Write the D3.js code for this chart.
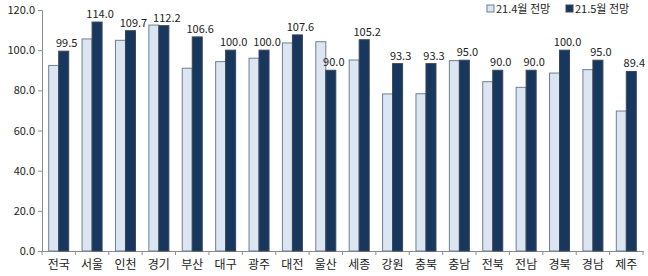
<!DOCTYPE html>
<html>
<head>
<meta charset="utf-8">
<script src="https://cdn.jsdelivr.net/npm/d3@7"></script>
<style>
  body { margin: 0; background: #fff; }
  text { font-family: "Noto Sans CJK KR", "Noto Sans", sans-serif; fill: #222; }
</style>
</head>
<body>
<svg id="chart" width="648" height="276"></svg>
<script>
const regions = ['전국','서울','인천','경기','부산','대구','광주','대전','울산','세종','강원','충북','충남','전북','전남','경북','경남','제주'];
const april = [92.4, 105.6, 104.9, 112.5, 91.0, 94.3, 96.0, 103.6, 104.2, 95.1, 78.2, 78.3, 94.8, 84.3, 81.5, 88.6, 90.3, 69.7];
const may   = [99.5, 114.0, 109.7, 112.2, 106.6, 100.0, 100.0, 107.6, 90.0, 105.2, 93.3, 93.3, 95.0, 90.0, 90.0, 100.0, 95.0, 89.4];
const yTicks = [0, 20, 40, 60, 80, 100, 120];
const seriesNames = ['21.4월 전망', '21.5월 전망'];

const W = 648, H = 276;
const m = { left: 42, right: 5, top: 10, bottom: 25 };

const svg = d3.select('#chart');

const x = d3.scaleBand()
  .domain(regions)
  .range([m.left, W - m.right]);

const y = d3.scaleLinear()
  .domain([0, 120])
  .range([H - m.bottom, m.top]);

const barW = 10;

// y axis
const yAxis = svg.append('g')
  .attr('transform', `translate(${m.left},0)`)
  .call(d3.axisLeft(y).tickValues(yTicks).tickFormat(d3.format('.1f')).tickSize(4).tickPadding(3));
yAxis.select('.domain').attr('stroke', '#8c8c8c');
yAxis.selectAll('.tick line').attr('stroke', '#8c8c8c');
yAxis.selectAll('text').attr('font-size', 11).attr('fill', '#222');

// x axis
const xAxis = svg.append('g')
  .attr('transform', `translate(0,${y(0)})`)
  .call(d3.axisBottom(x).tickSize(0).tickPadding(9));
xAxis.select('.domain').attr('stroke', '#8c8c8c');
xAxis.selectAll('text').attr('font-size', 12).attr('fill', '#222');

// tick marks at band boundaries
svg.append('g').selectAll('line')
  .data(regions.concat(['__end']))
  .join('line')
    .attr('x1', (d, i) => m.left + i * x.step())
    .attr('x2', (d, i) => m.left + i * x.step())
    .attr('y1', y(0))
    .attr('y2', y(0) + 4)
    .attr('stroke', '#8c8c8c');

const cx = d => x(d) + x.bandwidth() / 2;

svg.append('g').selectAll('rect')
  .data(regions)
  .join('rect')
    .attr('x', d => cx(d) - barW)
    .attr('y', (d, i) => y(april[i]))
    .attr('width', barW)
    .attr('height', (d, i) => y(0) - y(april[i]))
    .attr('fill', '#dce6f2')
    .attr('stroke', '#6f7f94')
    .attr('stroke-width', 1);

svg.append('g').selectAll('rect')
  .data(regions)
  .join('rect')
    .attr('x', d => cx(d))
    .attr('y', (d, i) => y(may[i]))
    .attr('width', barW)
    .attr('height', (d, i) => y(0) - y(may[i]))
    .attr('fill', '#17375e')
    .attr('stroke', '#3a4656')
    .attr('stroke-width', 1);

svg.append('g').selectAll('text')
  .data(regions)
  .join('text')
    .attr('x', d => cx(d) + barW / 2 + 3)
    .attr('y', (d, i) => y(may[i]) - 4)
    .attr('text-anchor', 'middle')
    .attr('font-size', 11)
    .text((d, i) => may[i].toFixed(1));

// legend
const legend = svg.append('g').attr('transform', 'translate(487,8)');
const legendX = [0, 79];
const legendFill = ['#dce6f2', '#17375e'];
const legendStroke = ['#6f7f94', '#3a4656'];
seriesNames.forEach((name, i) => {
  const g = legend.append('g').attr('transform', `translate(${legendX[i]},0)`);
  g.append('rect').attr('x', 0).attr('y', -3).attr('width', 7).attr('height', 7)
    .attr('fill', legendFill[i]).attr('stroke', legendStroke[i]);
  g.append('text').attr('x', 9).attr('y', 4.5).attr('font-size', 11).text(name);
});
</script>
</body>
</html>
